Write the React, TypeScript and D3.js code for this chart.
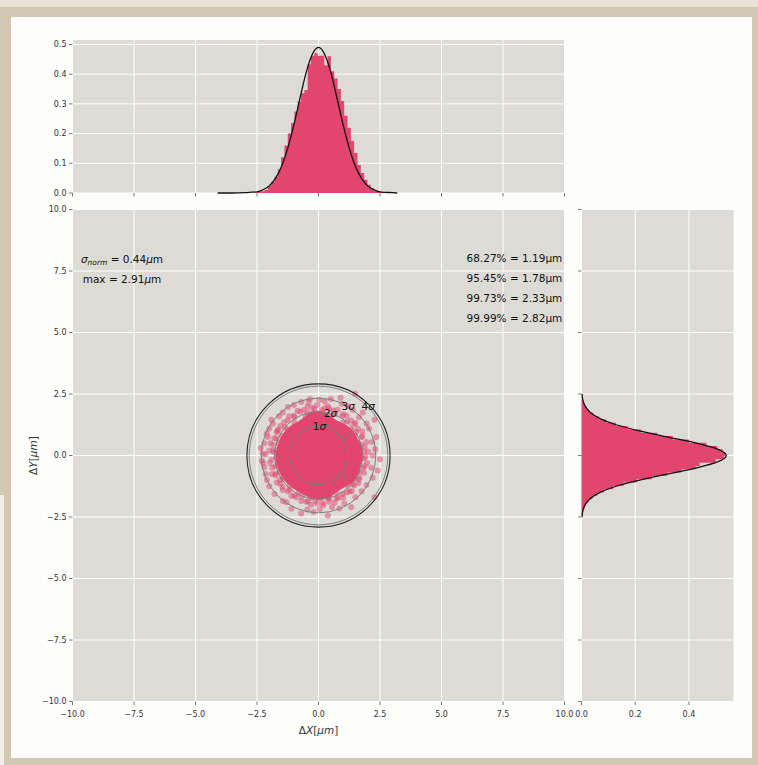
import React from 'react';
import * as d3 from 'd3';

// ---- data ----
const xTicks = [-10, -7.5, -5, -2.5, 0, 2.5, 5, 7.5, 10];
const yTicks = [-10, -7.5, -5, -2.5, 0, 2.5, 5, 7.5, 10];
const topYTicks = [0, 0.1, 0.2, 0.3, 0.4, 0.5];
const rightXTicks = [0, 0.2, 0.4];

// marginal histogram of dX (density), bins 0.135um wide starting at -2.6
const topBinStart = -2.6;
const topBinW = 0.135;
const topHist = [0.002, 0.004, 0.006, 0.010, 0.024, 0.038, 0.055, 0.080, 0.120, 0.160,
  0.200, 0.236, 0.274, 0.308, 0.336, 0.347, 0.433, 0.462, 0.470, 0.462,
  0.462, 0.430, 0.460, 0.410, 0.385, 0.350, 0.310, 0.260, 0.220, 0.175,
  0.135, 0.094, 0.067, 0.045, 0.028, 0.016, 0.009, 0.005, 0.002];

// marginal histogram of dY (density), bins 0.135um wide starting at -2.45
const rightBinStart = -2.45;
const rightBinW = 0.135;
const rightHist = [0.003, 0.006, 0.010, 0.016, 0.026, 0.040, 0.058, 0.083, 0.118, 0.156,
  0.205, 0.262, 0.318, 0.372, 0.425, 0.440, 0.500, 0.530, 0.535, 0.525,
  0.505, 0.465, 0.400, 0.340, 0.282, 0.222, 0.172, 0.128, 0.092, 0.064,
  0.044, 0.028, 0.018, 0.010, 0.005];

// fitted normal curves
const topCurveX = [-4.1, -3.5, -3.0, -2.5, -2.25, -2.0, -1.75, -1.5, -1.25, -1.0, -0.75, -0.5, -0.25, 0,
  0.25, 0.5, 0.75, 1.0, 1.25, 1.5, 1.75, 2.0, 2.25, 2.5, 3.0, 3.2];
const topCurveY = [0, 0, 0.001, 0.004, 0.011, 0.024, 0.049, 0.090, 0.151, 0.230, 0.320, 0.406, 0.467, 0.490,
  0.467, 0.406, 0.320, 0.230, 0.151, 0.090, 0.049, 0.024, 0.011, 0.004, 0.001, 0];
const rightCurveY = [-2.5, -2.25, -2.0, -1.75, -1.5, -1.25, -1.0, -0.75, -0.5, -0.25, 0,
  0.25, 0.5, 0.75, 1.0, 1.25, 1.5, 1.75, 2.0, 2.25, 2.5];
const rightCurveX = [0.002, 0.005, 0.014, 0.033, 0.069, 0.129, 0.216, 0.322, 0.429, 0.509, 0.539,
  0.509, 0.429, 0.322, 0.216, 0.129, 0.069, 0.033, 0.014, 0.005, 0.002];

// scatter of (dX, dY) in um: dense core, ragged rim, sparse fringe
const corePts: [number, number][] = [
  [-0.2, 1.74], [0.15, 1.72],
  [-0.52, 1.6], [-0.18, 1.58], [0.16, 1.62], [0.5, 1.58],
  [-0.98, 1.33], [-0.66, 1.33], [-0.33, 1.37], [0, 1.34], [0.33, 1.36], [0.66, 1.33], [0.98, 1.33],
  [-1.28, 1.07], [-1.0, 1.05], [-0.7, 1.09], [-0.4, 1.06], [-0.1, 1.08], [0.2, 1.05], [0.5, 1.08], [0.8, 1.06], [1.1, 1.07], [1.32, 1.05],
  [-1.48, 0.79], [-1.2, 0.8], [-0.9, 0.77], [-0.6, 0.8], [-0.3, 0.78], [0, 0.81], [0.3, 0.78], [0.6, 0.8], [0.9, 0.77], [1.2, 0.8], [1.48, 0.79],
  [-1.62, 0.5], [-1.35, 0.52], [-1.05, 0.49], [-0.75, 0.51], [-0.45, 0.49], [-0.15, 0.52], [0.15, 0.49], [0.45, 0.51], [0.75, 0.5], [1.05, 0.52], [1.35, 0.49], [1.6, 0.5],
  [-1.7, 0.21], [-1.42, 0.2], [-1.12, 0.22], [-0.82, 0.19], [-0.52, 0.21], [-0.22, 0.2], [0.08, 0.22], [0.38, 0.2], [0.68, 0.21], [0.98, 0.19], [1.28, 0.22], [1.58, 0.2], [1.7, 0.24],
  [-1.72, -0.08], [-1.45, -0.1], [-1.15, -0.07], [-0.85, -0.09], [-0.55, -0.08], [-0.25, -0.1], [0.05, -0.07], [0.35, -0.09], [0.65, -0.08], [0.95, -0.1], [1.25, -0.07], [1.55, -0.09], [1.72, -0.1],
  [-1.66, -0.37], [-1.38, -0.36], [-1.08, -0.38], [-0.78, -0.36], [-0.48, -0.37], [-0.18, -0.39], [0.12, -0.36], [0.42, -0.38], [0.72, -0.37], [1.02, -0.36], [1.32, -0.38], [1.62, -0.37],
  [-1.58, -0.66], [-1.3, -0.65], [-1.0, -0.67], [-0.7, -0.65], [-0.4, -0.67], [-0.1, -0.66], [0.2, -0.64], [0.5, -0.67], [0.8, -0.65], [1.1, -0.66], [1.4, -0.67], [1.58, -0.64],
  [-1.44, -0.95], [-1.16, -0.94], [-0.86, -0.96], [-0.56, -0.94], [-0.26, -0.95], [0.04, -0.97], [0.34, -0.94], [0.64, -0.96], [0.94, -0.95], [1.24, -0.94], [1.44, -0.96],
  [-1.18, -1.24], [-0.9, -1.23], [-0.6, -1.25], [-0.3, -1.23], [0, -1.25], [0.3, -1.24], [0.6, -1.22], [0.9, -1.25], [1.18, -1.23],
  [-0.8, -1.5], [-0.5, -1.5], [-0.2, -1.53], [0.1, -1.51], [0.4, -1.52], [0.72, -1.5],
  [-0.3, -1.72], [0.05, -1.74], [0.38, -1.71],
];
const rimPts: [number, number][] = [
  [1.85, 0.16], [1.75, 0.44], [1.75, 0.74], [1.54, 0.96], [1.45, 1.26], [1.16, 1.38], [0.97, 1.61],
  [0.68, 1.69], [0.44, 1.9], [0.13, 1.84], [-0.17, 1.89], [-0.44, 1.75], [-0.75, 1.78], [-0.98, 1.56],
  [-1.25, 1.43], [-1.38, 1.16], [-1.66, 1.0], [-1.71, 0.69], [-1.85, 0.43], [-1.82, 0.13], [-1.91, -0.17],
  [-1.75, -0.44], [-1.75, -0.74], [-1.56, -0.98], [-1.47, -1.28], [-1.17, -1.39], [-0.98, -1.63],
  [-0.67, -1.67], [-0.43, -1.87], [-0.13, -1.85], [0.17, -1.93], [0.44, -1.75], [0.74, -1.75],
  [0.98, -1.56], [1.26, -1.45], [1.39, -1.17], [1.63, -0.98], [1.67, -0.67], [1.88, -0.43], [1.84, -0.13],
];
const fringePts: [number, number][] = [
  [-1.92, 1.45], [-1.24, 1.97], [-0.7, 2.17], [0.04, 2.27], [1.49, 2.51], [2.28, 1.45], [2.35, 0.75],
  [2.41, -0.61], [2.28, -1.7], [1.33, -2.1], [0.38, -2.44], [-0.7, -2.36], [-1.1, -2.16], [-1.79, -1.56],
  [-2.2, -0.48], [-2.26, 0.07], [-2.06, 0.75],
  [-1.55, 1.2], [-1.7, 0.95], [-1.95, 0.5], [-2.0, 0.2], [-1.98, -0.3], [-1.9, -0.75], [-1.7, -1.1],
  [-1.45, -1.4], [-1.1, -1.65], [-0.7, -1.85], [-0.3, -2.0], [0.2, -2.02], [0.65, -1.92], [1.0, -1.72],
  [1.35, -1.45], [1.62, -1.12], [1.85, -0.7], [1.98, -0.3], [2.02, 0.15], [1.95, 0.55], [1.78, 0.98],
  [1.5, 1.33], [1.15, 1.62], [0.78, 1.86], [0.38, 2.0], [-0.05, 2.05], [-0.45, 1.98], [-0.85, 1.82], [-1.2, 1.6],
  [-1.6, 1.6], [-2.2, 0.5], [-2.3, -0.2], [-2.1, -1.0], [-1.45, -1.85], [-0.2, -2.3], [0.85, -2.15],
  [1.75, -1.45], [2.2, -0.9], [2.3, 0.25], [2.05, 1.1], [1.2, 2.0], [0.5, 2.3], [-0.35, 2.3], [-1.0, 2.05],
  [-2.0, 1.1], [1.8, 1.75], [-2.35, 0.3], [2.5, -0.15], [0.9, 2.35],
  [-1.85, 0.2], [-1.88, -0.5], [-1.8, 0.7], [-1.65, 1.05], [-1.4, 1.35], [-1.0, 1.62], [-0.6, 1.85],
  [-0.25, 1.95], [0.25, 1.92], [0.6, 1.83], [1.0, 1.68], [1.32, 1.42], [1.6, 1.1], [1.78, 0.78],
  [1.88, 0.35], [1.9, -0.05], [1.82, -0.5], [1.66, -0.9], [1.45, -1.22], [1.15, -1.5], [0.8, -1.72],
  [0.42, -1.88], [-0.05, -1.95], [-0.5, -1.88], [-0.9, -1.7], [-1.25, -1.45], [-1.55, -1.15], [-1.75, -0.8],
  [-2.15, -0.75], [-2.0, -1.25], [-1.3, -1.9], [-0.45, -2.2], [0.05, -2.18], [0.55, -2.1], [1.05, -1.95],
  [1.5, -1.7], [1.95, -1.2], [2.15, -0.5], [2.2, 0.0], [2.18, 0.55], [1.95, 1.3], [1.65, 1.55],
  [1.4, 1.85], [0.95, 2.1], [0.25, 2.2], [-0.4, 2.15], [-1.45, 1.75], [-1.85, 1.3], [-2.1, 0.9],
  [-2.15, 0.05], [-2.25, -0.3],
];

const sigmaRadii = [1.19, 1.78, 2.33, 2.82];
const maxRadius = 2.91;
const sigmaLabels = ['1', '2', '3', '4'];
const sigmaLabelX = [0.04, 0.49, 1.21, 2.02];
const sigmaLabelY = [1.18, 1.71, 2.0, 2.0];

const pctLabels = ['68.27%', '95.45%', '99.73%', '99.99%'];
const pctValues = ['1.19', '1.78', '2.33', '2.82'];

const PINK = '#e2466e';
const PANEL = '#dcdbd6';
const FONT = 'DejaVu Sans, sans-serif';
const TICK = '#555';
const LABEL = '#333';

export default function App() {
  const W = 758, H = 765;
  const xMain = d3.scaleLinear().domain([-10, 10]).range([72.5, 564.5]);
  const yMain = d3.scaleLinear().domain([-10, 10]).range([701.5, 209.5]);
  const yTop = d3.scaleLinear().domain([0, 0.515]).range([193, 40]);
  const xRight = d3.scaleLinear().domain([0, 0.566]).range([581.5, 733.5]);
  const fmt = d3.format('.1f');

  const [mx0, mx1] = xMain.range();
  const [my1, my0] = yMain.range();
  const [tTop, tBot] = [yTop.range()[1], yTop.range()[0]];
  const [rx0, rx1] = xRight.range();

  const topCurve = d3.line<number>()
    .x((_, i) => xMain(topCurveX[i]))
    .y(d => yTop(d))
    .curve(d3.curveMonotoneX)(topCurveY) || '';
  const rightCurve = d3.line<number>()
    .x(d => xRight(d))
    .y((_, i) => yMain(rightCurveY[i]))
    .curve(d3.curveMonotoneY)(rightCurveX) || '';

  // histograms as step areas (one path each, no seams)
  const topSteps = [...topHist, topHist[topHist.length - 1]];
  const topArea = d3.area<number>()
    .x((_, i) => xMain(topBinStart + i * topBinW))
    .y0(yTop(0))
    .y1(d => yTop(d))
    .curve(d3.curveStepAfter)(topSteps) || '';
  const rightSteps = [...rightHist, rightHist[rightHist.length - 1]];
  const rightArea = d3.area<number>()
    .y((_, i) => yMain(rightBinStart + i * rightBinW))
    .x0(xRight(0))
    .x1(d => xRight(d))
    .curve(d3.curveStepBefore)(rightSteps) || '';

  // saturated core: density region of the core points
  const dens = d3.contourDensity<[number, number]>()
    .x(d => xMain(d[0]) - mx0)
    .y(d => yMain(d[1]) - my0)
    .size([mx1 - mx0, my1 - my0])
    .cellSize(2)
    .bandwidth(5)
    .thresholds(40)(corePts);
  const maxV = d3.max(dens, c => c.value) || 1;
  const target = 0.62 * maxV;
  const core = dens.reduce((b, c) => (Math.abs(c.value - target) < Math.abs(b.value - target) ? c : b), dens[0]);
  const corePath = d3.geoPath()(core as any) || '';
  const allPts = [...corePts, ...rimPts, ...fringePts];

  const ticksFont = { fontFamily: FONT, fontSize: 8, fill: LABEL };

  return (
    <svg width={W} height={H} style={{ position: 'absolute', left: 0, top: 0 }}>
      {/* photo frame */}
      <rect x={0} y={0} width={W} height={H} fill="#d2c7b1" />
      <rect x={0} y={0} width={W} height={7} fill="#e6e0d5" />
      <rect x={0} y={495} width={4} height={H - 495} fill="#f1eee8" />
      <rect x={11} y={17} width={741} height={741} fill="#fdfdfc" />

      {/* ---- top histogram ---- */}
      <rect x={mx0} y={tTop} width={mx1 - mx0} height={tBot - tTop} fill={PANEL} />
      {xTicks.map(t => (
        <line key={'tgx' + t} x1={xMain(t)} x2={xMain(t)} y1={tTop} y2={tBot} stroke="#fff" strokeWidth={1} />
      ))}
      {topYTicks.map(t => (
        <line key={'tgy' + t} x1={mx0} x2={mx1} y1={yTop(t)} y2={yTop(t)} stroke="#fff" strokeWidth={1} />
      ))}
      <path d={topArea} fill={PINK} />
      <path d={topCurve} fill="none" stroke="#111" strokeWidth={1.3} />
      {xTicks.map(t => (
        <line key={'ttx' + t} x1={xMain(t)} x2={xMain(t)} y1={tBot} y2={tBot + 3.5} stroke={TICK} strokeWidth={0.8} />
      ))}
      {topYTicks.map(t => (
        <g key={'tty' + t}>
          <line x1={mx0 - 3.5} x2={mx0} y1={yTop(t)} y2={yTop(t)} stroke={TICK} strokeWidth={0.8} />
          <text x={mx0 - 6} y={yTop(t)} dy="0.35em" textAnchor="end" {...ticksFont}>{fmt(t)}</text>
        </g>
      ))}

      {/* ---- main scatter ---- */}
      <rect x={mx0} y={my0} width={mx1 - mx0} height={my1 - my0} fill={PANEL} />
      {xTicks.map(t => (
        <line key={'mgx' + t} x1={xMain(t)} x2={xMain(t)} y1={my0} y2={my1} stroke="#fff" strokeWidth={1} />
      ))}
      {yTicks.map(t => (
        <line key={'mgy' + t} x1={mx0} x2={mx1} y1={yMain(t)} y2={yMain(t)} stroke="#fff" strokeWidth={1} />
      ))}
      <path d={corePath} transform={`translate(${mx0},${my0})`} fill={PINK} />
      {allPts.map((p, i) => (
        <circle key={'p' + i} cx={xMain(p[0])} cy={yMain(p[1])} r={3} fill={PINK} fillOpacity={0.5} />
      ))}
      {sigmaRadii.map((r, i) => (
        <circle key={'sc' + i} cx={xMain(0)} cy={yMain(0)} r={xMain(r) - xMain(0)} fill="none" stroke="#7d7d7d" strokeWidth={1} />
      ))}
      <circle cx={xMain(0)} cy={yMain(0)} r={xMain(maxRadius) - xMain(0)} fill="none" stroke="#222" strokeWidth={1.1} />
      {sigmaLabels.map((s, i) => (
        <text key={'sl' + i} x={xMain(sigmaLabelX[i])} y={yMain(sigmaLabelY[i])} dy="0.35em" textAnchor="middle"
          fontFamily={FONT} fontSize={10.5} fill="#111">
          {s}<tspan fontStyle="italic">σ</tspan>
        </text>
      ))}

      {/* annotations */}
      <text x={122} y={263} textAnchor="middle" fontFamily={FONT} fontSize={10.5} fill="#111">
        <tspan fontStyle="italic">σ</tspan>
        <tspan fontStyle="italic" fontSize={7.5} dy={2}>norm</tspan>
        <tspan dy={-2}> = 0.44</tspan>
        <tspan fontStyle="italic">μ</tspan>
        <tspan>m</tspan>
      </text>
      <text x={122} y={283} textAnchor="middle" fontFamily={FONT} fontSize={10.5} fill="#111">
        max = 2.91<tspan fontStyle="italic">μ</tspan>m
      </text>
      {pctLabels.map((p, i) => (
        <text key={'pc' + i} x={466.5} y={262 + i * 20} fontFamily={FONT} fontSize={10.5} fill="#111">
          {p} = {pctValues[i]}μm
        </text>
      ))}

      {xTicks.map(t => (
        <g key={'mtx' + t}>
          <line x1={xMain(t)} x2={xMain(t)} y1={my1} y2={my1 + 3.5} stroke={TICK} strokeWidth={0.8} />
          <text x={xMain(t)} y={my1 + 15} textAnchor="middle" {...ticksFont}>{fmt(t)}</text>
        </g>
      ))}
      {yTicks.map(t => (
        <g key={'mty' + t}>
          <line x1={mx0 - 3.5} x2={mx0} y1={yMain(t)} y2={yMain(t)} stroke={TICK} strokeWidth={0.8} />
          <text x={mx0 - 6} y={yMain(t)} dy="0.35em" textAnchor="end" {...ticksFont}>{fmt(t)}</text>
        </g>
      ))}
      <text x={xMain(0)} y={734} textAnchor="middle" fontFamily={FONT} fontSize={10.5} fill={LABEL}>
        Δ<tspan fontStyle="italic">X</tspan>[<tspan fontStyle="italic">μm</tspan>]
      </text>
      <text transform={`translate(37,${yMain(0)}) rotate(-90)`} textAnchor="middle" fontFamily={FONT} fontSize={10.5} fill={LABEL}>
        Δ<tspan fontStyle="italic">Y</tspan>[<tspan fontStyle="italic">μm</tspan>]
      </text>

      {/* ---- right histogram ---- */}
      <rect x={rx0} y={my0} width={rx1 - rx0} height={my1 - my0} fill={PANEL} />
      {rightXTicks.map(t => (
        <line key={'rgx' + t} x1={xRight(t)} x2={xRight(t)} y1={my0} y2={my1} stroke="#fff" strokeWidth={1} />
      ))}
      {yTicks.map(t => (
        <line key={'rgy' + t} x1={rx0} x2={rx1} y1={yMain(t)} y2={yMain(t)} stroke="#fff" strokeWidth={1} />
      ))}
      <path d={rightArea} fill={PINK} />
      <path d={rightCurve} fill="none" stroke="#111" strokeWidth={1.3} />
      {rightXTicks.map(t => (
        <g key={'rtx' + t}>
          <line x1={xRight(t)} x2={xRight(t)} y1={my1} y2={my1 + 3.5} stroke={TICK} strokeWidth={0.8} />
          <text x={xRight(t)} y={my1 + 15} textAnchor="middle" {...ticksFont}>{fmt(t)}</text>
        </g>
      ))}
      {yTicks.map(t => (
        <line key={'rty' + t} x1={rx0 - 3.5} x2={rx0} y1={yMain(t)} y2={yMain(t)} stroke={TICK} strokeWidth={0.8} />
      ))}
    </svg>
  );
}
